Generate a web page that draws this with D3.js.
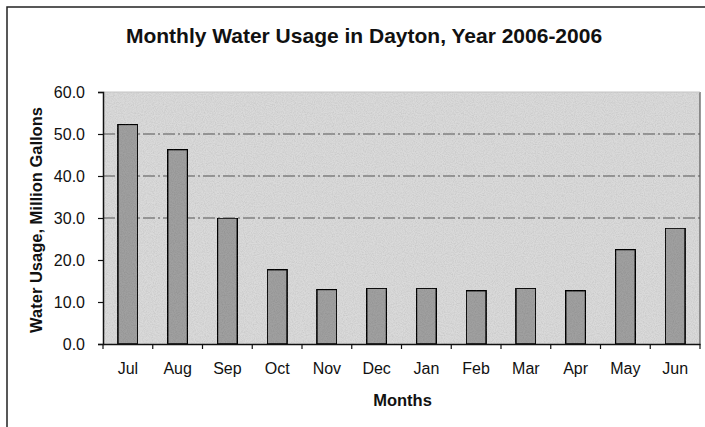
<!DOCTYPE html>
<html><head><meta charset="utf-8">
<script src="https://cdn.jsdelivr.net/npm/d3@7"></script>
<style>
html,body{margin:0;padding:0;background:#fff;}
text{font-family:"Liberation Sans",Arial,sans-serif;fill:#111;}
</style></head>
<body><svg id="c" width="705" height="427"></svg>
<script>
const months = ["Jul","Aug","Sep","Oct","Nov","Dec","Jan","Feb","Mar","Apr","May","Jun"];
const usage = [52.3, 46.3, 30.0, 17.7, 13.0, 13.3, 13.3, 12.7, 13.3, 12.7, 22.5, 27.6];
const yTicks = [0, 10, 20, 30, 40, 50, 60];
const gridValues = [30, 40, 50];
const title = "Monthly Water Usage in Dayton, Year 2006-2006";
const yTitle = "Water Usage, Million Gallons";
const xTitle = "Months";

const svg = d3.select("#c");
const L = 103, R = 700, T = 92, B = 344;

// outer chart border
svg.append("rect").attr("x",7).attr("y",7).attr("width",705).attr("height",440)
  .attr("fill","#fff").attr("stroke","#222").attr("stroke-width",1.5);

// noise filter for scanned look
const defs = svg.append("defs");
const f = defs.append("filter").attr("id","noise").attr("x",0).attr("y",0).attr("width","100%").attr("height","100%");
f.append("feTurbulence").attr("type","fractalNoise").attr("baseFrequency",0.9).attr("numOctaves",2).attr("seed",3).attr("result","t");
f.append("feColorMatrix").attr("in","t").attr("type","matrix")
  .attr("values","0 0 0 0 0  0 0 0 0 0  0 0 0 0 0  0 0 0 0.3 -0.1").attr("result","n");
f.append("feComposite").attr("in","n").attr("in2","SourceGraphic").attr("operator","in").attr("result","m");
f.append("feMerge").call(m=>{m.append("feMergeNode").attr("in","SourceGraphic");m.append("feMergeNode").attr("in","m");});

const x = d3.scaleBand().domain(months).range([L,R]).paddingInner(0.6).paddingOuter(0.3);
const y = d3.scaleLinear().domain([0,60]).range([B,T]);

// plot area
svg.append("rect").attr("x",L).attr("y",T).attr("width",R-L).attr("height",B-T)
  .attr("fill","#dadada").attr("filter","url(#noise)");
svg.append("line").attr("x1",R).attr("x2",R).attr("y1",T).attr("y2",B).attr("stroke","#555").attr("stroke-width",1.2);
svg.append("line").attr("x1",L).attr("x2",R).attr("y1",T).attr("y2",T).attr("stroke","#c4c4c4").attr("stroke-width",1);

// gridlines
svg.append("g").selectAll("line").data(gridValues).join("line")
  .attr("x1",L).attr("x2",R).attr("y1",d=>y(d)).attr("y2",d=>y(d))
  .attr("stroke","#555").attr("stroke-width",1.2).attr("stroke-dasharray","12,3,2,3");

// bars
svg.append("g").selectAll("rect").data(usage).join("rect")
  .attr("x",(d,i)=>x(months[i])).attr("width",x.bandwidth())
  .attr("y",d=>y(d)).attr("height",d=>B-y(d))
  .attr("fill","#a0a0a0").attr("stroke","#111").attr("stroke-width",1.6)
  .attr("filter","url(#noise)");

// y axis
const ya = svg.append("g").attr("transform",`translate(${L},0)`)
  .call(d3.axisLeft(y).tickValues(yTicks).tickFormat(d3.format(".1f")).tickSize(5).tickPadding(13));
ya.select(".domain").attr("stroke","#111").attr("stroke-width",1.5);
ya.selectAll(".tick line").attr("stroke","#111").attr("stroke-width",1.2);
ya.selectAll("text").style("font-size","16px").attr("fill","#111");

// x axis
const xa = svg.append("g").attr("transform",`translate(0,${B})`)
  .call(d3.axisBottom(x).tickSize(0).tickPadding(19));
xa.select(".domain").attr("stroke","#111").attr("stroke-width",1.5);
xa.selectAll("text").style("font-size","16px").attr("fill","#111");
const bounds = d3.range(months.length+1).map(i=>L + i*(R-L)/months.length);
xa.selectAll(".sep").data(bounds).join("line").attr("class","sep")
  .attr("x1",d=>d).attr("x2",d=>d).attr("y1",0).attr("y2",5).attr("stroke","#111").attr("stroke-width",1.2);

// titles
svg.append("text").attr("x",364).attr("y",43).attr("text-anchor","middle")
  .style("font-size","21px").style("font-weight","bold").text(title);
svg.append("text").attr("transform",`translate(42,${(T+B)/2+2}) rotate(-90)`).attr("text-anchor","middle")
  .style("font-size","16.5px").style("font-weight","bold").text(yTitle);
svg.append("text").attr("x",(L+R)/2+1).attr("y",406).attr("text-anchor","middle")
  .style("font-size","16.5px").style("font-weight","bold").text(xTitle);
</script></body></html>
